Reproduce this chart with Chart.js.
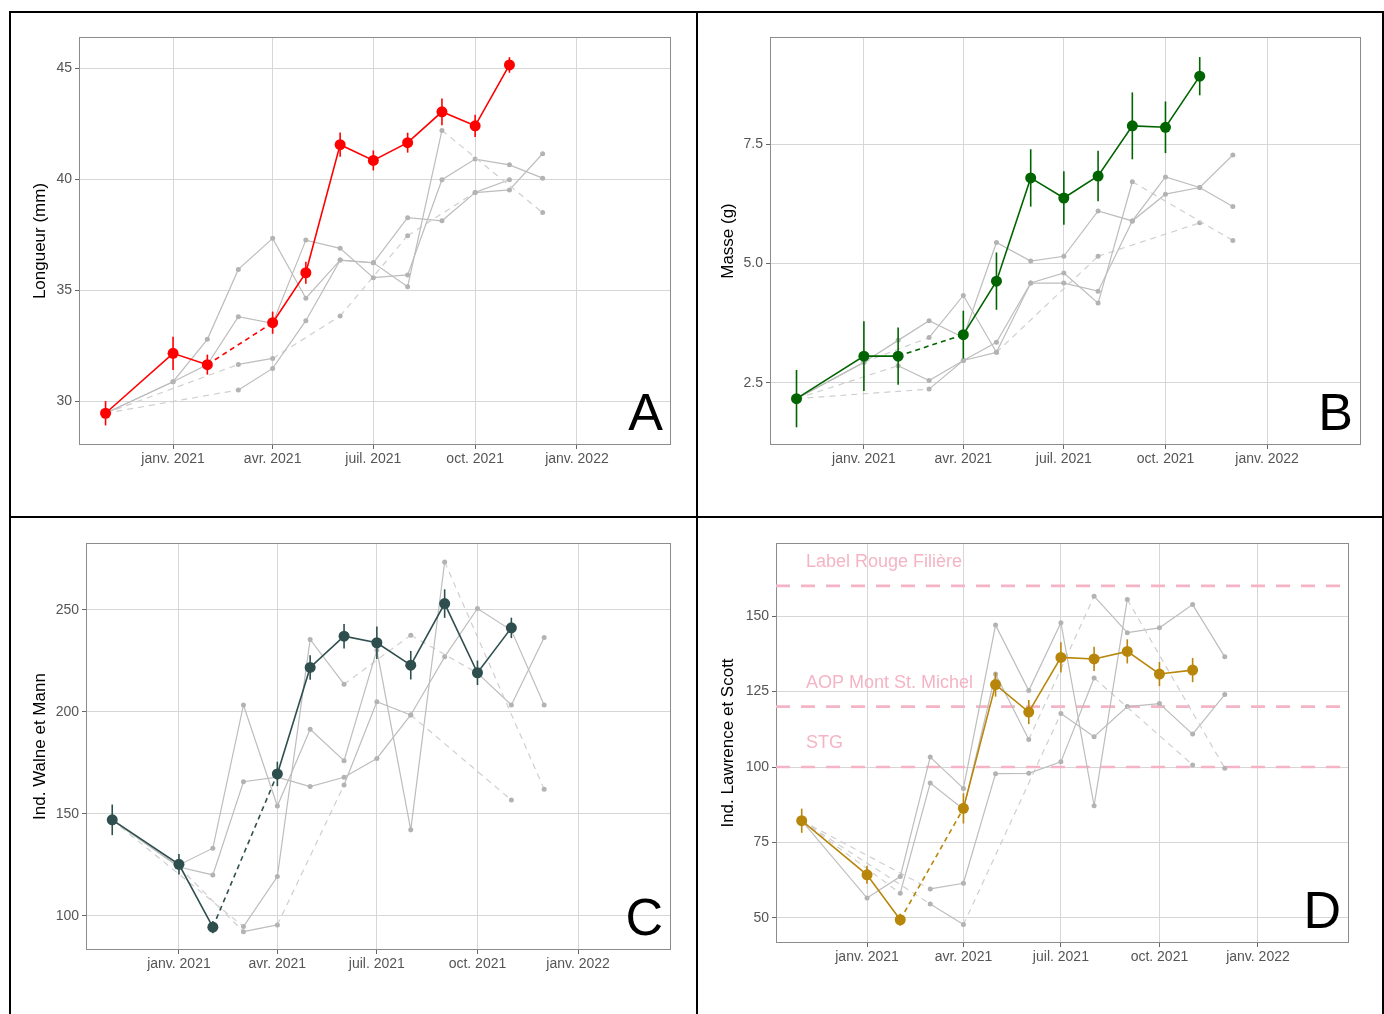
<!DOCTYPE html>
<html lang="fr">
<head>
<meta charset="utf-8">
<script src="https://cdn.jsdelivr.net/npm/chart.js@4.4.1/dist/chart.umd.min.js"></script>
<style>
  html, body { margin: 0; padding: 0; background: #fff; }
  body { width: 1384px; height: 1014px; position: relative; overflow: hidden; }
  .rule { position: absolute; background: #000; }
  .panel { position: absolute; }
</style>
</head>
<body>
<div class="rule" style="left:9px;top:11px;width:1375px;height:2px"></div>
<div class="rule" style="left:9px;top:516px;width:1375px;height:2px"></div>
<div class="rule" style="left:9px;top:11px;width:2px;height:1003px"></div>
<div class="rule" style="left:696px;top:11px;width:2px;height:1003px"></div>
<div class="rule" style="left:1382px;top:11px;width:2px;height:1003px"></div>

<div class="panel" style="left:20px;top:25px;width:665px;height:460px"><canvas id="chart-a"></canvas></div>
<div class="panel" style="left:712px;top:25px;width:663px;height:460px"><canvas id="chart-b"></canvas></div>
<div class="panel" style="left:20px;top:530px;width:665px;height:460px"><canvas id="chart-c"></canvas></div>
<div class="panel" style="left:712px;top:530px;width:663px;height:455px"><canvas id="chart-d"></canvas></div>

<script>
// dates d'échantillonnage (pas de prélèvement en déc. 2020)
const sampleDates = ["2020-11-01", "2021-01-01", "2021-02-01", "2021-03-01", "2021-04-01", "2021-05-01",
  "2021-06-01", "2021-07-01", "2021-08-01", "2021-09-01", "2021-10-01", "2021-11-01", "2021-12-01"];
const tickDates = ["2021-01-01", "2021-04-01", "2021-07-01", "2021-10-01", "2022-01-01"];
const tickLabels = ["janv. 2021", "avr. 2021", "juil. 2021", "oct. 2021", "janv. 2022"];

// =========================
// A - LONGUEUR
// =========================
const longueur = [29.45, 32.15, 31.64, null, 33.53, 35.78, 41.55, 40.84, 41.64, 43.03, 42.40, 45.14, null];
const longueurErr = [0.55, 0.75, 0.45, null, 0.5, 0.5, 0.55, 0.45, 0.45, 0.6, 0.5, 0.35, null];
const longueurAutres = [
  [29.45, 30.87, 32.78, 35.93, 37.33, 34.63, 36.35, 36.23, 35.15, 42.19, null, null, 38.49],
  [29.45, 30.87, 31.64, 33.80, 33.50, 37.25, 36.88, 35.56, 35.68, 39.97, 40.90, 40.64, 40.04],
  [29.45, null, null, 30.50, 31.47, 33.62, 36.35, 36.23, 38.26, 38.12, 39.39, 39.51, 41.14],
  [29.45, null, null, 31.65, 31.92, null, 33.83, null, 37.45, null, 39.40, 39.97, null]
];
const longueurTicks = [30, 35, 40, 45];

// =========================
// B - MASSE
// =========================
const masse = [2.17, 3.06, 3.06, null, 3.51, 4.63, 6.79, 6.37, 6.83, 7.88, 7.85, 8.92, null];
const masseErr = [0.6, 0.73, 0.6, null, 0.5, 0.6, 0.6, 0.56, 0.53, 0.7, 0.54, 0.4, null];
const masseAutres = [
  [2.17, 2.93, 3.39, 3.80, 3.45, 5.44, 5.05, 5.15, 6.10, 5.89, 6.81, 6.59, 6.19],
  [2.17, null, 2.86, 2.55, 2.97, 3.35, 4.59, 4.80, 4.17, 6.71, null, null, 5.48],
  [2.17, 2.93, null, 3.45, 4.33, 3.14, 4.59, 4.59, 4.42, 5.89, 6.45, 6.59, 7.27],
  [2.17, null, null, 2.37, 2.97, 3.14, null, null, 5.15, null, null, 5.85, null]
];
const masseTicks = [2.5, 5.0, 7.5];

// =========================
// C - WALNE ET MANN
// =========================
const walne = [147.1, 125.3, 94.5, null, 169.6, 221.8, 237.1, 233.9, 222.9, 253.1, 219.2, 241.2, null];
const walneErr = [7.5, 5, 3, null, 6, 6, 6, 8, 7, 7, 6, 5, null];
const walneAutres = [
  [147, 125, 133.2, 203.4, 153.9, 191.5, 176.1, 230.3, 142.2, 273.5, null, null, 162.1],
  [147, 124, 120.1, 165.8, 168, 163.4, 168, 177.2, 198.5, 227.0, 250.7, 240, 203.4],
  [147, null, null, 94.8, 119.3, 235.5, 213.6, null, 237.6, null, 219, 203.4, 236.5],
  [147, 124, null, 92.3, 95.6, null, 164.2, 205.0, 198.5, null, null, 156.8, null]
];
const walneTicks = [100, 150, 200, 250];

// =========================
// D - LAWRENCE ET SCOTT
// =========================
const lawrence = [82.2, 64.3, 49.4, null, 86.3, 127.3, 118.2, 136.3, 135.8, 138.3, 130.8, 132.1, null];
const lawrenceErr = [4, 3, 2, null, 5, 4, 4, 5, 4, 4, 4, 4, null];
const lawrenceAutres = [
  [82.2, 56.6, 63.7, 103.3, 92.9, 147.0, 125.3, 147.8, 87.2, 155.5, null, null, 99.6],
  [82.2, null, 58.2, 94.7, 86.0, 130.8, 109.1, null, 156.6, 144.5, 146.1, 153.8, 136.5],
  [82.2, null, null, 59.6, 61.5, 97.8, 97.9, 101.7, 129.5, null, null, 100.7, null],
  [82.2, null, null, 54.6, 47.8, null, null, 117.7, 110.0, 120.0, 121.0, 110.9, 124.0]
];
const lawrenceTicks = [50, 75, 100, 125, 150];
const seuilValues = [160, 120, 100];
const seuilLabels = ["Label Rouge Filière", "AOP Mont St. Michel", "STG"];

// =========================
// OUTILS
// =========================
const FONT = '"Liberation Sans", Arial, sans-serif';
Chart.defaults.font.family = FONT;

const toDays = s => (Date.parse(s) - Date.parse("2021-01-01")) / 86400000;
const xDays = sampleDates.map(toDays);
const tickDays = tickDates.map(toDays);

// un segment "saute" un prélèvement manquant si le point juste avant p1 est vide
const gapIn = arr => ctx => arr[ctx.p0DataIndex] == null;

function buildDatasets(main, err, color, autres) {
  const pts = arr => arr.map((v, i) => ({ x: xDays[i], y: v }));
  const mainGap = gapIn(main);
  const sets = [{
    data: pts(main),
    errors: err,
    borderColor: color,
    pointBackgroundColor: color,
    pointBorderWidth: 0,
    pointRadius: 5.5,
    borderWidth: 1.6,
    spanGaps: true,
    segment: { borderDash: ctx => mainGap(ctx) ? [5, 4] : undefined }
  }];
  autres.forEach(arr => {
    const gap = gapIn(arr);
    sets.push({
      data: pts(arr),
      borderColor: "#BDBDBD",
      pointBackgroundColor: "#B3B3B3",
      pointBorderWidth: 0,
      pointRadius: 2.5,
      borderWidth: 1.2,
      spanGaps: true,
      segment: {
        borderDash: ctx => gap(ctx) ? [6, 5] : undefined,
        borderColor: ctx => gap(ctx) ? "#CFCFCF" : undefined
      }
    });
  });
  return sets;
}

const errorBars = {
  id: "errorBars",
  afterDatasetsDraw(chart) {
    const ctx = chart.ctx;
    const yScale = chart.scales.y;
    chart.data.datasets.forEach((ds, i) => {
      if (!ds.errors) return;
      chart.getDatasetMeta(i).data.forEach((pt, j) => {
        const v = ds.data[j].y;
        const e = ds.errors[j];
        if (v == null || e == null) return;
        ctx.save();
        ctx.strokeStyle = ds.borderColor;
        ctx.lineWidth = 1.6;
        ctx.beginPath();
        ctx.moveTo(pt.x, yScale.getPixelForValue(v - e));
        ctx.lineTo(pt.x, yScale.getPixelForValue(v + e));
        ctx.stroke();
        ctx.restore();
      });
    });
  }
};

const panelFrame = {
  id: "panelFrame",
  beforeDatasetsDraw(chart, args, opts) {
    const { ctx, chartArea: a } = chart;
    ctx.save();
    ctx.strokeStyle = "#8C8C8C";
    ctx.lineWidth = 1;
    ctx.strokeRect(a.left + 0.5, a.top + 0.5, a.right - a.left - 1, a.bottom - a.top - 1);
    // seuils (panneau D)
    if (opts.seuils) {
      const y = chart.scales.y;
      opts.seuils.forEach((val, i) => {
        const py = y.getPixelForValue(val);
        ctx.strokeStyle = "#F5B4C5";
        ctx.lineWidth = 2.6;
        ctx.setLineDash([14, 11]);
        ctx.beginPath();
        ctx.moveTo(a.left, py);
        ctx.lineTo(a.right, py);
        ctx.stroke();
        ctx.setLineDash([]);
        ctx.fillStyle = "#F5B4C5";
        ctx.font = "18px " + FONT;
        ctx.textBaseline = "middle";
        ctx.textAlign = "left";
        ctx.fillText(opts.labels[i], a.left + 30, py - 24);
      });
    }
    ctx.restore();
  },
  afterDraw(chart, args, opts) {
    const { ctx, chartArea: a } = chart;
    ctx.save();
    ctx.fillStyle = "#000";
    ctx.font = "52px " + FONT;
    ctx.textAlign = "right";
    ctx.textBaseline = "alphabetic";
    ctx.fillText(opts.letter, a.right - 8, a.bottom - 15);
    ctx.restore();
  }
};

function makeChart(id, cfg) {
  const frameOpts = { letter: cfg.letter };
  if (cfg.seuils) {
    frameOpts.seuils = cfg.seuils;
    frameOpts.labels = cfg.seuilLabels;
  }
  return new Chart(document.getElementById(id), {
    type: "line",
    data: { datasets: buildDatasets(cfg.main, cfg.err, cfg.color, cfg.autres) },
    options: {
      responsive: true,
      maintainAspectRatio: false,
      devicePixelRatio: 1,
      animation: false,
      layout: { padding: { top: cfg.padTop, right: cfg.padRight, left: 0, bottom: 0 } },
      plugins: {
        legend: { display: false },
        tooltip: { enabled: false },
        panelFrame: frameOpts
      },
      scales: {
        x: {
          type: "linear",
          min: -85,
          max: 450,
          afterBuildTicks: s => { s.ticks = tickDays.map(v => ({ value: v })); },
          afterFit: s => { s.height = cfg.xHeight; },
          ticks: {
            autoSkip: false,
            maxRotation: 0,
            color: "#555",
            padding: 2,
            font: { size: 14 },
            callback: v => tickLabels[tickDays.indexOf(v)]
          },
          grid: { color: "#D6D6D6", tickColor: "#666", tickLength: 4 },
          border: { display: false }
        },
        y: {
          type: "linear",
          min: cfg.yMin,
          max: cfg.yMax,
          afterBuildTicks: s => { s.ticks = cfg.yTicks.map(v => ({ value: v })); },
          afterFit: s => { s.width = cfg.yWidth; },
          ticks: {
            color: "#555",
            padding: 3,
            font: { size: 14 },
            callback: v => cfg.fmt ? cfg.fmt(v) : String(v)
          },
          grid: { color: "#D6D6D6", tickColor: "#666", tickLength: 4 },
          border: { display: false },
          title: {
            display: true,
            text: cfg.title,
            color: "#000",
            font: { size: 17 },
            padding: { top: cfg.titlePad, bottom: 0 }
          }
        }
      }
    },
    plugins: [errorBars, panelFrame]
  });
}

makeChart("chart-a", {
  letter: "A", title: "Longueur (mm)", color: "#FF0000",
  main: longueur, err: longueurErr, autres: longueurAutres,
  yMin: 28.02, yMax: 46.4, yTicks: longueurTicks,
  padTop: 12, padRight: 14, yWidth: 59, xHeight: 40, titlePad: 10
});

makeChart("chart-b", {
  letter: "B", title: "Masse (g)", color: "#006400",
  main: masse, err: masseErr, autres: masseAutres,
  yMin: 1.2, yMax: 9.74, yTicks: masseTicks, fmt: v => v.toFixed(1),
  padTop: 12, padRight: 14, yWidth: 58, xHeight: 40, titlePad: 6
});

makeChart("chart-c", {
  letter: "C", title: "Ind. Walne et Mann", color: "#2F4F4F",
  main: walne, err: walneErr, autres: walneAutres,
  yMin: 83.3, yMax: 282.8, yTicks: walneTicks,
  padTop: 13, padRight: 14, yWidth: 66, xHeight: 40, titlePad: 10
});

makeChart("chart-d", {
  letter: "D", title: "Ind. Lawrence et Scott", color: "#B8860B",
  main: lawrence, err: lawrenceErr, autres: lawrenceAutres,
  yMin: 41.7, yMax: 174.2, yTicks: lawrenceTicks,
  seuils: seuilValues, seuilLabels: seuilLabels,
  padTop: 13, padRight: 26, yWidth: 64, xHeight: 42, titlePad: 6
});
</script>
</body>
</html>
